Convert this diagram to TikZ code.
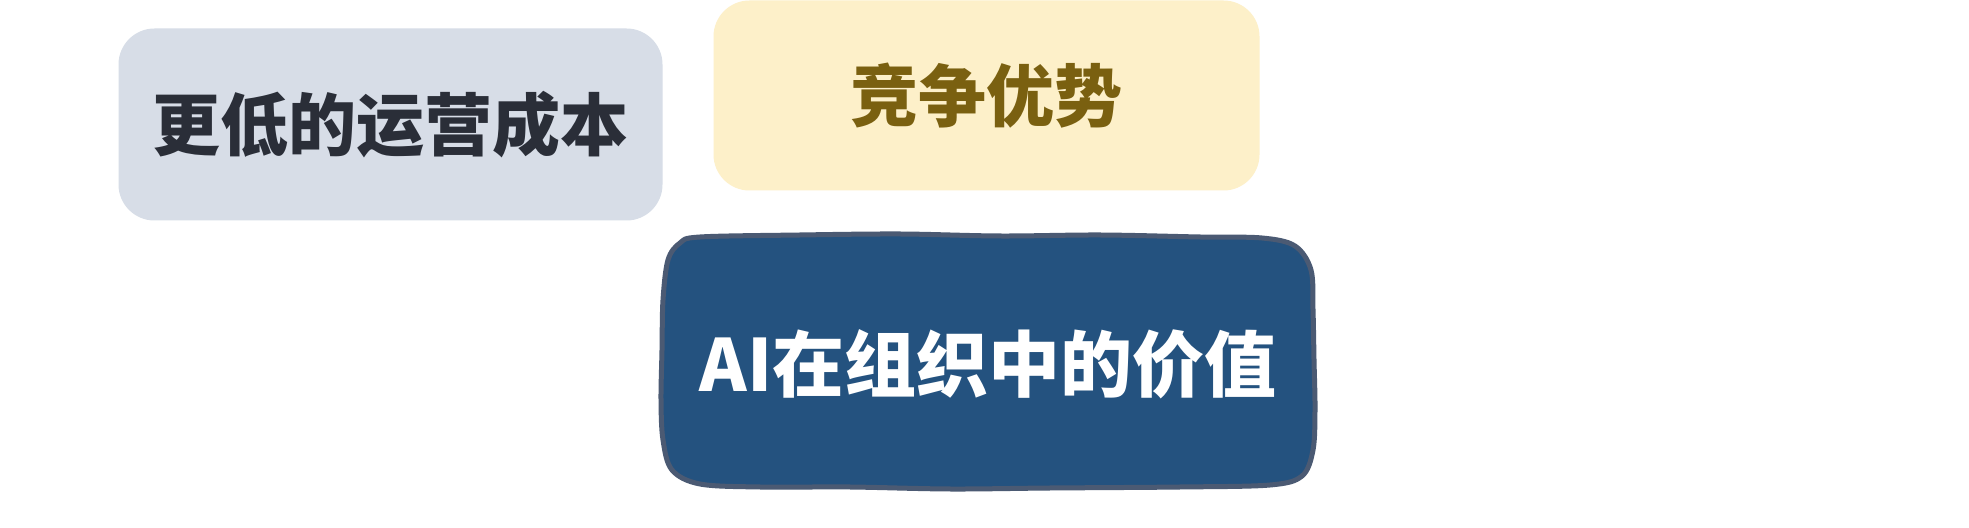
\documentclass[tikz,border=0pt]{standalone}
\usepackage{fontspec}
\newfontfamily\cjk{Noto Sans CJK SC}
\usepackage{tikz}
\usetikzlibrary{positioning}
\definecolor{grayfill}{HTML}{D7DDE7}
\definecolor{graytext}{HTML}{2A2E38}
\definecolor{goldfill}{HTML}{FDF0C9}
\definecolor{goldtext}{HTML}{7A6010}
\definecolor{bluefill}{HTML}{24527F}
\definecolor{blueedge}{HTML}{4B5A73}
\tikzset{
  card/.style={rounded corners=18pt, inner sep=0pt,
    minimum width=272pt, minimum height=96pt,
    font=\cjk\bfseries\fontsize{34pt}{40pt}\selectfont},
}

\begin{document}
\begin{tikzpicture}[x=0.5pt,y=-0.5pt]
  \useasboundingbox[fill=white](0,0)rectangle(1969,528);
  \node[card, fill=grayfill, text=graytext](cost) at (390.5,124.5){更低的运营成本};
  \node[card, fill=goldfill, text=goldtext, minimum width=273pt,
    minimum height=95pt](edge) at (986.5,95.5){竞争优势};
  % hand drawn outline of the centre card
  \draw[line width=2.5pt, draw=blueedge, fill=bluefill]
    plot[smooth cycle, tension=0.55] coordinates{
      (700,237) (800,235) (900,234) (1000,236) (1100,235) (1200,237)
      (1262,238) (1295,246) (1311,270) (1313,310) (1314,360) (1315,410)
      (1313,450) (1302,476) (1270,485) (1180,487) (1050,488) (950,489)
      (850,487) (760,487) (700,484) (672,470) (663,440) (661,400)
      (662,350) (663,300) (668,260) (680,243)};
  \node[inner sep=0pt, text=white,
    font=\cjk\bfseries\fontsize{36pt}{42pt}\selectfont](value) at (988,364)
    {AI在组织中的价值};
\end{tikzpicture}
\end{document}
